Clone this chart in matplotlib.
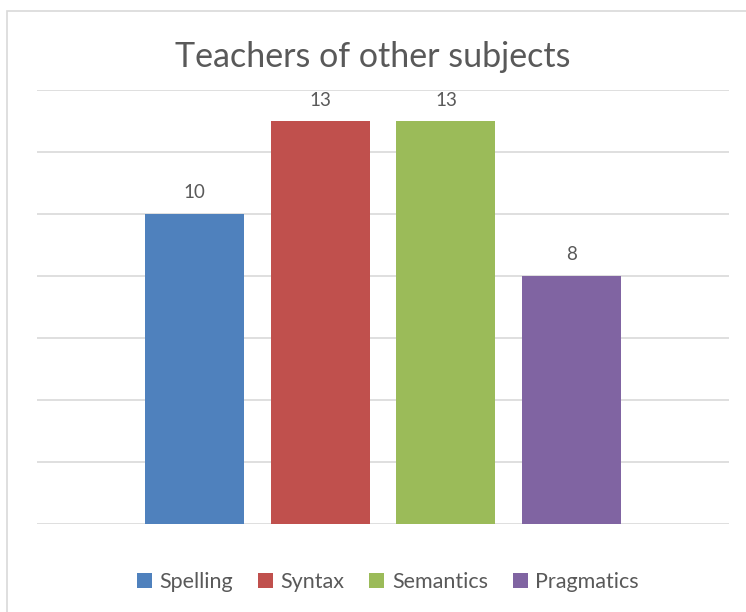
import matplotlib
matplotlib.use("Agg")
import matplotlib.pyplot as plt
from matplotlib.patches import Rectangle, Patch

# data
categories = ["Spelling", "Syntax", "Semantics", "Pragmatics"]
counts = [10, 13, 13, 8]
colors = ["#4F81BD", "#C0504D", "#9BBB59", "#8064A2"]

plt.rcParams['font.family'] = ['Lato', 'DejaVu Sans']
text_color = "#595959"

W, H = 746, 612
fig = plt.figure(figsize=(W / 100, H / 100), dpi=100)

# chart border (only top/left visible in the reference)
fig.patches.append(Rectangle((7 / W, -0.1), 1.2, 1 - 11 / H + 0.1,
                             transform=fig.transFigure, fill=False,
                             edgecolor="#D9D9D9", linewidth=1.2))

ax = fig.add_axes([37 / W, 1 - 524 / H, (729 - 37) / W, (524 - 90) / H])
x = list(range(len(categories)))
bars = ax.bar(x, counts, width=0.786, color=colors, zorder=3)

for b, v in zip(bars, counts):
    ax.annotate(str(v), (b.get_x() + b.get_width() / 2, v),
                xytext=(0, 9), textcoords="offset points",
                ha="center", va="bottom", fontsize=13.5, color=text_color)

ax.set_xlim(-1.25, 4.25)
ax.set_ylim(0, 14)
ax.set_yticks(range(0, 15, 2))
ax.grid(axis="y", color="#D9D9D9", linewidth=1.2, zorder=0)
ax.tick_params(left=False, bottom=False, labelleft=False, labelbottom=False)
for s in ax.spines.values():
    s.set_visible(False)

fig.text(0.5, 1 - 57 / H, "Teachers of other subjects", ha="center",
         va="center", fontsize=24.5, color=text_color)

handles = [Patch(facecolor=c) for c in colors]
fig.legend(handles, categories, loc="center", bbox_to_anchor=(388 / W, 1 - 582 / H),
           ncol=4, frameon=False, fontsize=15.5, handlelength=0.7,
           handleheight=0.7, handletextpad=0.35, columnspacing=1.15,
           labelcolor=text_color)

fig.savefig("out.png", dpi=100, facecolor="white")
